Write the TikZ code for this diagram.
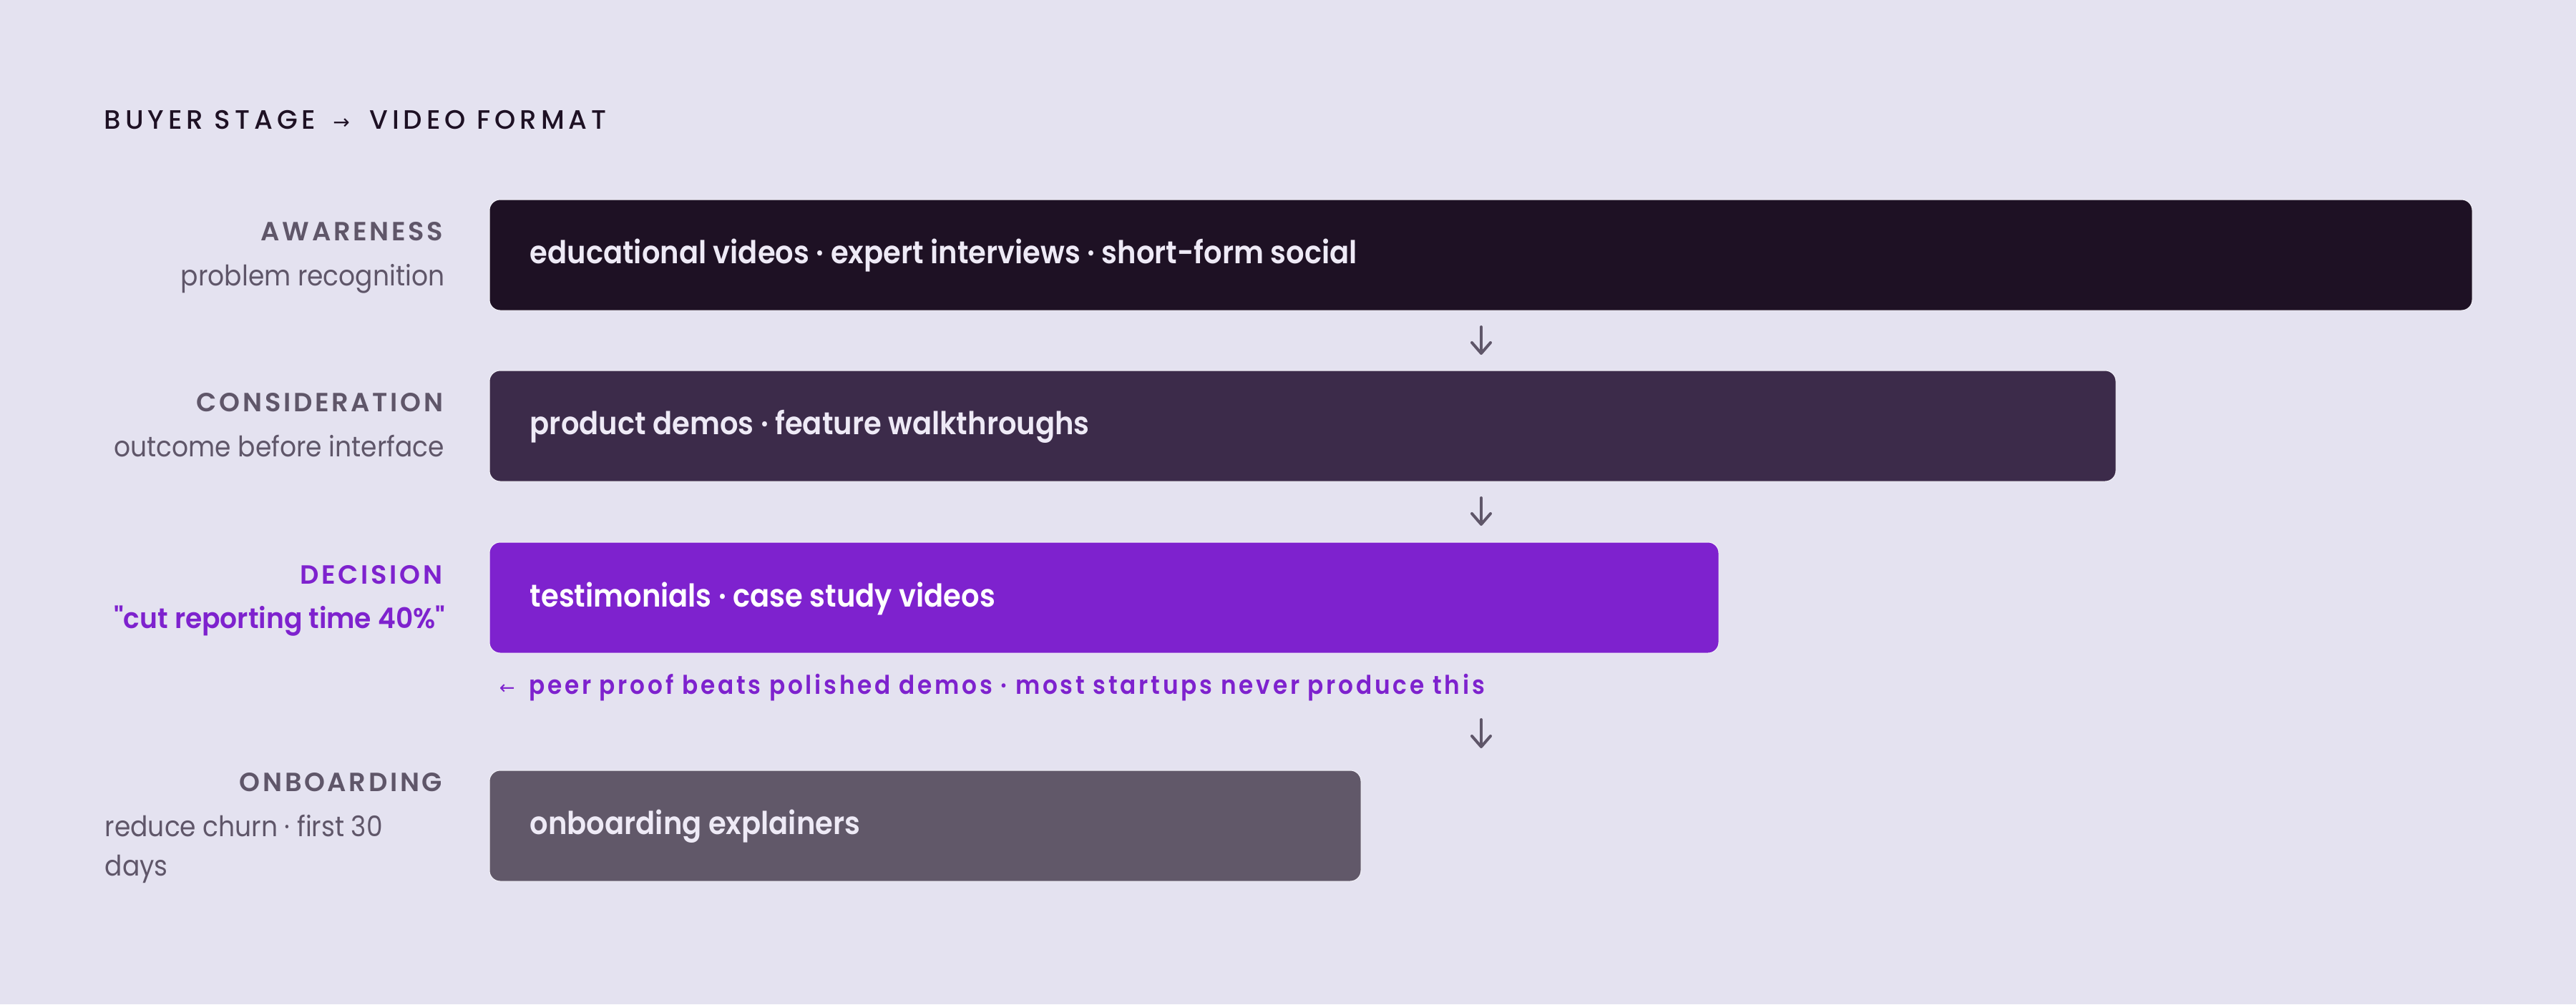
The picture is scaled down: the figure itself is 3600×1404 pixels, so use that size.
\documentclass[tikz,border=0pt]{standalone}
\usepackage{fontspec}
\setmainfont{Poppins}[FakeStretch=0.91]
\newfontfamily\fsemi{Poppins SemiBold}[FakeStretch=0.91]
\newfontfamily\fsemiw{Poppins SemiBold}[FakeStretch=0.95]
\newfontfamily\fmedc{Poppins Medium}
\newfontfamily\fsemic{Poppins SemiBold}
\newfontfamily\fsym{DejaVu Sans}
\usetikzlibrary{arrows.meta}
\definecolor{bg}{HTML}{E4E2F0}
\definecolor{cone}{HTML}{1E1124}
\definecolor{ctwo}{HTML}{3C2B4A}
\definecolor{cthree}{HTML}{7E22CE}
\definecolor{cfour}{HTML}{615869}
\definecolor{labgrey}{HTML}{5F5669}
\definecolor{boxtext}{HTML}{EEEAF6}
\tikzset{
  stagebox/.style={draw=white!55!bg, line width=0.25pt, rounded corners=3.75pt, anchor=north west,
    minimum height=38.75pt, inner sep=0pt, outer sep=0pt},
  boxlabel/.style={anchor=base west, inner sep=0pt, text=boxtext, font=\fsemi\fontsize{11pt}{13pt}\selectfont},
  stagename/.style={anchor=base east, inner sep=0pt, text=labgrey, font=\fsemic\fontsize{9.2pt}{11pt}\selectfont\addfontfeature{LetterSpace=10}},
  stagesub/.style={anchor=base east, inner sep=0pt, text=labgrey, font=\fontsize{9.9pt}{11pt}\selectfont},
  flowarrow/.style={draw=labgrey, line width=1pt, line cap=round, line join=round,
    -{Straight Barb[length=3.75pt, width=6.5pt, line cap=round, line join=round]}},
}
\begin{document}
\begin{tikzpicture}[x=0.25pt,y=-0.25pt]
\fill[bg] (0,0) rectangle (3600,1404);
\useasboundingbox (0,0) rectangle (3600,1404);

% title
\node[anchor=base west, inner sep=0pt, text=cone, font=\fmedc\fontsize{9.3pt}{11pt}\selectfont\addfontfeature{LetterSpace=16}] (title) at (145,180)
  {BUYER STAGE\hspace{6pt}{\fsym\fontsize{7pt}{8pt}\selectfont →}\hspace{3pt} VIDEO FORMAT};

% boxes
\node[stagebox, fill=cone, minimum width=692.75pt] (b1) at (684,279) {};
\node[stagebox, fill=ctwo, minimum width=568.25pt] (b2) at (684,518) {};
\node[stagebox, fill=cthree, minimum width=429.5pt] (b3) at (684,758) {};
\node[stagebox, fill=cfour, minimum width=304.5pt] (b4) at (684,1077) {};

\node[boxlabel] (t1) at (740,368) {educational videos · expert interviews · short-form social};
\node[boxlabel] (t2) at (740,607) {product demos · feature walkthroughs};
\node[boxlabel, text=white] (t3) at (740,848) {testimonials · case study videos};
\node[boxlabel] (t4) at (740,1166) {onboarding explainers};

% stage labels
\node[stagename] (s1) at (620,336) {AWARENESS};
\node[stagesub] (d1) at (622,399) {problem recognition};
\node[stagename] (s2) at (620,575) {CONSIDERATION};
\node[stagesub] (d2) at (622,638) {outcome before interface};
\node[stagename, text=cthree] (s3) at (619,816) {DECISION};
\node[stagesub, text=cthree, font=\fsemiw\fontsize{9.9pt}{11pt}\selectfont] (d3) at (623,878) {"cut reporting time 40\%"};
\node[stagename] (s4) at (619,1106) {ONBOARDING};
\node[stagesub, anchor=base west] (d4a) at (146,1169) {reduce churn · first 30};
\node[stagesub, anchor=base west] (d4b) at (146,1224) {days};

% annotation
\node[anchor=base west, inner sep=0pt, text=cthree, font=\fsemi\fontsize{9pt}{11pt}\selectfont\addfontfeature{LetterSpace=10.5}] (note) at (697,970)
  {{\fsym\fontsize{6.5pt}{8pt}\selectfont ←}\hspace{2pt} peer proof beats polished demos · most startups never produce this};

% arrows
\coordinate (a1s) at (2070,457); \coordinate (a1e) at (2070,496);
\coordinate (a2s) at (2070,696); \coordinate (a2e) at (2070,735);
\coordinate (a3s) at (2070,1006); \coordinate (a3e) at (2070,1046);
\draw[flowarrow] (a1s) -- (a1e);
\draw[flowarrow] (a2s) -- (a2e);
\draw[flowarrow] (a3s) -- (a3e);
\end{tikzpicture}
\end{document}
